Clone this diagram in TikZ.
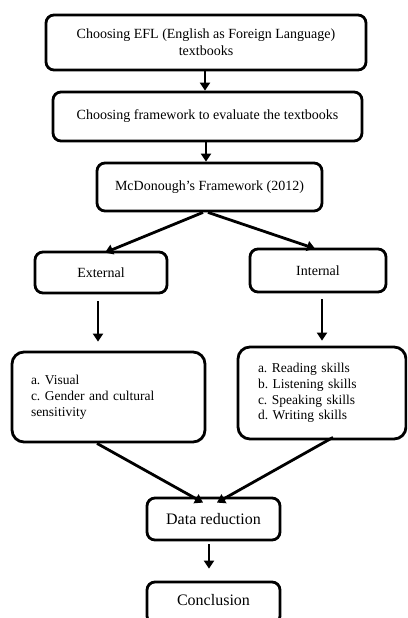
\documentclass[tikz,border=0pt]{standalone}
\usepackage{fontspec}
\setmainfont{Liberation Serif}
\usetikzlibrary{arrows.meta}
\frenchspacing

\begin{document}
\begin{tikzpicture}[x=1pt, y=-1pt,
    box/.style={draw, line width=2.8pt, rounded corners=8pt, align=center,
        font=\fontsize{14}{17}\selectfont, inner sep=0pt},
    bigbox/.style={box, font=\fontsize{16}{19}\selectfont},
    listbox/.style={draw, line width=2.8pt, rounded corners=12pt, align=left,
        font=\fontsize{13.5}{15.8}\selectfont, inner ysep=0pt},
    arr/.style={line width=2.8pt, -{Triangle[width=10pt,length=8pt]}}]
    \useasboundingbox (0,0) rectangle (407,618);
    \clip (0,0) rectangle (407,618);

    \node[box, minimum width=320pt, minimum height=55pt] (efl) at (206, 42.5)
        {Choosing EFL (English as Foreign Language)\\textbooks};
    \node[box, minimum width=309pt, minimum height=49pt] (choose) at (207.5, 116.5)
        {Choosing framework to evaluate the textbooks};
    \node[box, minimum width=225pt, minimum height=48pt] (mcd) at (209.5, 187)
        {McDonough's Framework (2012)};

    \node[box, minimum width=132pt, minimum height=41pt] (ext) at (101, 272.5) {External};
    \node[box, minimum width=136pt, minimum height=43pt] (int) at (318, 270.5) {Internal};

    \node[listbox, text width=155pt, inner xsep=19pt, minimum height=90pt] (extlist) at (108.5, 397)
        {a. Visual\\c. Gender and cultural\\sensitivity};
    \node[listbox, text width=128pt, inner xsep=20pt, minimum height=92pt] (intlist) at (322, 393)
        {a. Reading skills\\b. Listening skills\\c. Speaking skills\\d. Writing skills};

    \node[bigbox, minimum width=133pt, minimum height=42pt] (red) at (213.5, 519) {Data reduction};
    \node[bigbox, minimum width=133pt, minimum height=42pt, text depth=6pt] (concl) at (213.5, 603) {Conclusion};

    \draw[arr] ([xshift=-1pt]efl.south) -- ([xshift=-1pt]efl.south |- choose.north);
    \draw[arr] ([xshift=-1.5pt]choose.south) -- ([xshift=-1.5pt]choose.south |- mcd.north);
    \draw[arr] ([xshift=-6.5pt]mcd.south) -- ([xshift=4pt, yshift=-2pt]ext.north);
    \draw[arr] ([xshift=-1.5pt]mcd.south) -- ([xshift=-3pt, yshift=-1pt]int.north);
    \draw[arr, shorten <=7pt, shorten >=9pt] ([xshift=-3pt]ext.south) -- ([xshift=-3pt]ext.south |- extlist.north);
    \draw[arr, shorten <=6pt, shorten >=5pt] ([xshift=4pt]int.south) -- ([xshift=4pt]int.south |- intlist.north);
    \draw[arr] ([xshift=-11.5pt]extlist.south) -- ([xshift=-10.5pt, yshift=-6pt]red.north);
    \draw[arr] ([xshift=11pt, yshift=3pt]intlist.south) -- ([xshift=3.5pt, yshift=-6pt]red.north);
    \draw[arr, shorten <=3pt, shorten >=12pt] ([xshift=-4.5pt]red.south) -- ([xshift=-4.5pt]red.south |- concl.north);
\end{tikzpicture}
\end{document}
